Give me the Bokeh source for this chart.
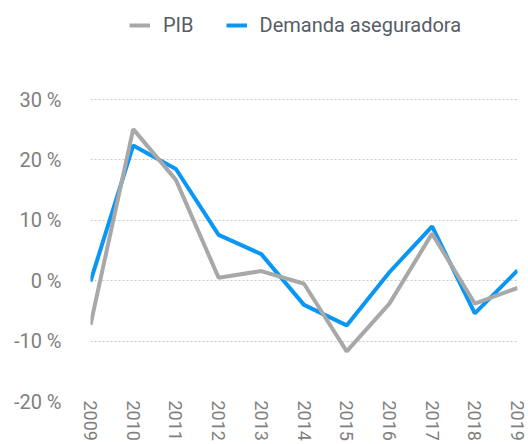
from bokeh.plotting import figure
from bokeh.models import Range1d, FixedTicker, PrintfTickFormatter, Legend, LegendItem
from bokeh.embed import file_html
from bokeh.resources import INLINE

years = [2009, 2010, 2011, 2012, 2013, 2014, 2015, 2016, 2017, 2018, 2019]
pib = [-7.3, 25.1, 16.7, 0.5, 1.6, -0.5, -11.7, -3.8, 7.8, -3.8, -1.2]
demanda = [-0.1, 22.4, 18.5, 7.6, 4.4, -4.0, -7.4, 1.4, 9.0, -5.4, 1.7]
y_ticks = [-20, -10, 0, 10, 20, 30]

FONT = "Roboto"

p = figure(width=528, height=444, output_backend="svg", toolbar_location=None,
           x_range=Range1d(2009, 2019), y_range=Range1d(-20, 46.4),
           min_border_left=90, min_border_right=11, min_border_top=0, min_border_bottom=43)
p.outline_line_color = None
p.background_fill_color = "white"
p.border_fill_color = "white"

r_dem = p.line(years, demanda, line_color="#0a96f5", line_width=4)
r_pib = p.line(years, pib, line_color="#a8a8a8", line_width=4)

p.xgrid.grid_line_color = None
p.ygrid.grid_line_color = "#c8c8c8"
p.ygrid.grid_line_dash = "2 2"
p.ygrid.grid_line_width = 1
p.ygrid.ticker = FixedTicker(ticks=y_ticks)

yax = p.yaxis[0]
yax.ticker = FixedTicker(ticks=y_ticks)
yax.formatter = PrintfTickFormatter(format="%d %%")
yax.axis_line_color = None
yax.major_tick_line_color = None
yax.minor_tick_line_color = None
yax.major_label_text_font = FONT
yax.major_label_text_font_size = "20px"
yax.major_label_text_color = "#7f7f7f"
yax.major_label_standoff = 23

xax = p.xaxis[0]
xax.ticker = FixedTicker(ticks=years)
xax.axis_line_color = None
xax.major_tick_line_color = None
xax.minor_tick_line_color = None
xax.major_label_orientation = "vertical"
xax.major_label_text_font = FONT
xax.major_label_text_font_size = "18px"
xax.major_label_text_color = "#7f7f7f"
xax.major_label_standoff = -7

legend = Legend(items=[LegendItem(label="PIB", renderers=[r_pib]),
                       LegendItem(label="Demanda aseguradora", renderers=[r_dem])],
                orientation="horizontal", location=(39, 364),
                border_line_color=None, background_fill_alpha=0,
                padding=0, margin=0, spacing=32, glyph_width=21, glyph_height=24,
                label_standoff=13, label_text_font=FONT, label_text_font_size="20px",
                label_text_color="#575c66", label_height=24)
p.add_layout(legend, "center")

open("out.html", "w").write(file_html(p, INLINE))
